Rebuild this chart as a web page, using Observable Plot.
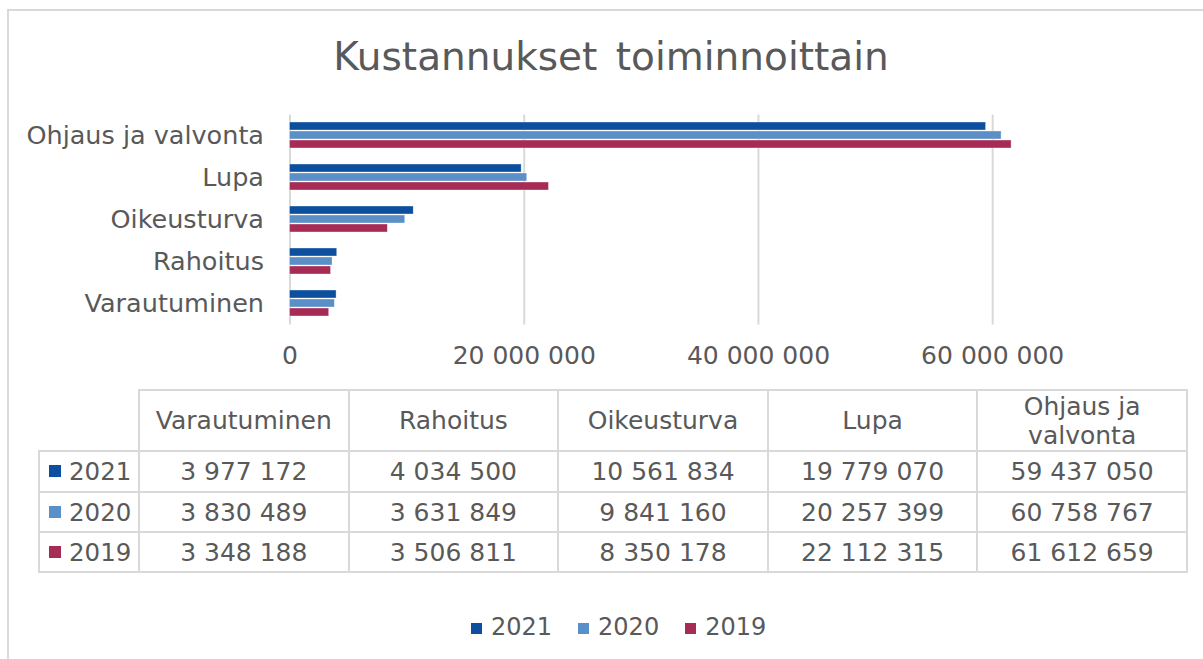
<!DOCTYPE html>
<html>
<head>
<meta charset="utf-8">
<script src="https://cdn.jsdelivr.net/npm/d3@7"></script>
<script src="https://cdn.jsdelivr.net/npm/@observablehq/plot@0.6"></script>
<style>
html, body { margin: 0; padding: 0; background: #fff; overflow: hidden; }
body { width: 1203px; height: 659px; position: relative; font-family: "DejaVu Sans", Verdana, sans-serif; color: #595959; }
#frame { position: absolute; left: 7px; top: 9px; width: 1300px; height: 800px; border: 2px solid #D9D9D9; box-sizing: border-box; }
#title { position: absolute; left: 0; width: 1222px; top: 37px; text-align: center; font-size: 39px; line-height: 39px; word-spacing: 6px; white-space: nowrap; }
#chart { position: absolute; left: 0; top: 0; }
#table { position: absolute; left: 38px; top: 389px; border-collapse: collapse; table-layout: fixed; width: 1148px; font-size: 25px; color: #595959; }
#table td, #table th { border: 2px solid #D9D9D9; text-align: center; padding: 0; font-weight: normal; }
#table th { line-height: 29px; }
#table td.key { text-align: left; padding-left: 9px; white-space: nowrap; font-size: 24.5px; }
#table th.corner { border-top: none; border-left: none; }
.sw { display: inline-block; width: 12px; height: 12px; margin-right: 8px; vertical-align: middle; position: relative; top: -2px; }
#legend { position: absolute; left: 471px; top: 614px; display: flex; align-items: center; font-size: 24px; line-height: 26px; white-space: nowrap; }
#legend .item { display: flex; align-items: center; margin-right: 26px; }
#legend .sw { width: 11px; height: 11px; margin-right: 9px; top: 1px; }
</style>
</head>
<body>
<div id="frame"></div>
<div id="chart"></div>
<div id="title"></div>
<table id="table"></table>
<div id="legend"></div>
<script>
// ---- Data ----
const chartTitle = "Kustannukset toiminnoittain";
// table order (left to right)
const categories = ["Varautuminen", "Rahoitus", "Oikeusturva", "Lupa", "Ohjaus ja valvonta"];
const years = ["2021", "2020", "2019"];
const values2021 = [3977172, 4034500, 10561834, 19779070, 59437050];
const values2020 = [3830489, 3631849, 9841160, 20257399, 60758767];
const values2019 = [3348188, 3506811, 8350178, 22112315, 61612659];
const xTicks = [0, 20000000, 40000000, 60000000];
const colors = ["#0B4F9E", "#5B8FC7", "#A62B55"];

const seriesValues = [values2021, values2020, values2019];
const rows = [];
years.forEach((yr, j) => categories.forEach((c, i) => rows.push({ category: c, year: yr, value: seriesValues[j][i] })));

const fmt = d => d3.format(",")(d).replace(/,/g, "\u00a0");

// chart categories top to bottom (reverse of table order)
const yDomain = categories.slice().reverse();

// ---- Title ----
document.getElementById("title").textContent = chartTitle;

// ---- Plot ----
const insets = [[0, 18], [9, 9], [18, 0]];
const chart = Plot.plot({
  width: 1203,
  height: 380,
  marginLeft: 289.5,
  marginRight: 93.7,
  marginTop: 114.5,
  marginBottom: 55.5,
  style: { fontFamily: "DejaVu Sans, Verdana, sans-serif", fontSize: "25px", color: "#595959", background: "transparent", overflow: "visible" },
  x: { domain: [0, 70000000] },
  y: { domain: yDomain, paddingInner: 0.38, paddingOuter: 0.19 },
  marks: [
    Plot.gridX(xTicks, { stroke: "#D9D9D9", strokeOpacity: 1, strokeWidth: 2 }),
    ...years.map((yr, j) => Plot.barX(rows.filter(d => d.year === yr), {
      x: "value", y: "category", fill: colors[j],
      insetTop: insets[j][0], insetBottom: insets[j][1],
      stroke: "#ffffff", strokeWidth: 0.6, strokeOpacity: 0.6
    })),
    Plot.axisX(xTicks, { tickSize: 0, tickPadding: 21, tickFormat: fmt, label: null, fontSize: 25 }),
    Plot.axisY({ tickSize: 0, tickPadding: 26, label: null, fontSize: 25.5 })
  ]
});
document.getElementById("chart").appendChild(chart);

// ---- Data table ----
const table = document.getElementById("table");
let html = '<colgroup><col style="width:100px">' + categories.map(() => '<col style="width:209.6px">').join("") + '</colgroup>';
html += '<tr style="height:61px"><th class="corner"></th>' + categories.map(c => `<th>${c === "Ohjaus ja valvonta" ? "Ohjaus ja<br>valvonta" : c}</th>`).join("") + '</tr>';
const rowHeights = [41, 40, 40];
years.forEach((yr, j) => {
  html += `<tr style="height:${rowHeights[j]}px"><td class="key"><span class="sw" style="background:${colors[j]}"></span>${yr}</td>` +
    seriesValues[j].map(v => `<td>${fmt(v)}</td>`).join("") + '</tr>';
});
table.innerHTML = html;

// ---- Legend ----
document.getElementById("legend").innerHTML = years.map((yr, j) =>
  `<span class="item"><span class="sw" style="background:${colors[j]}"></span>${yr}</span>`).join("");
</script>
</body>
</html>
